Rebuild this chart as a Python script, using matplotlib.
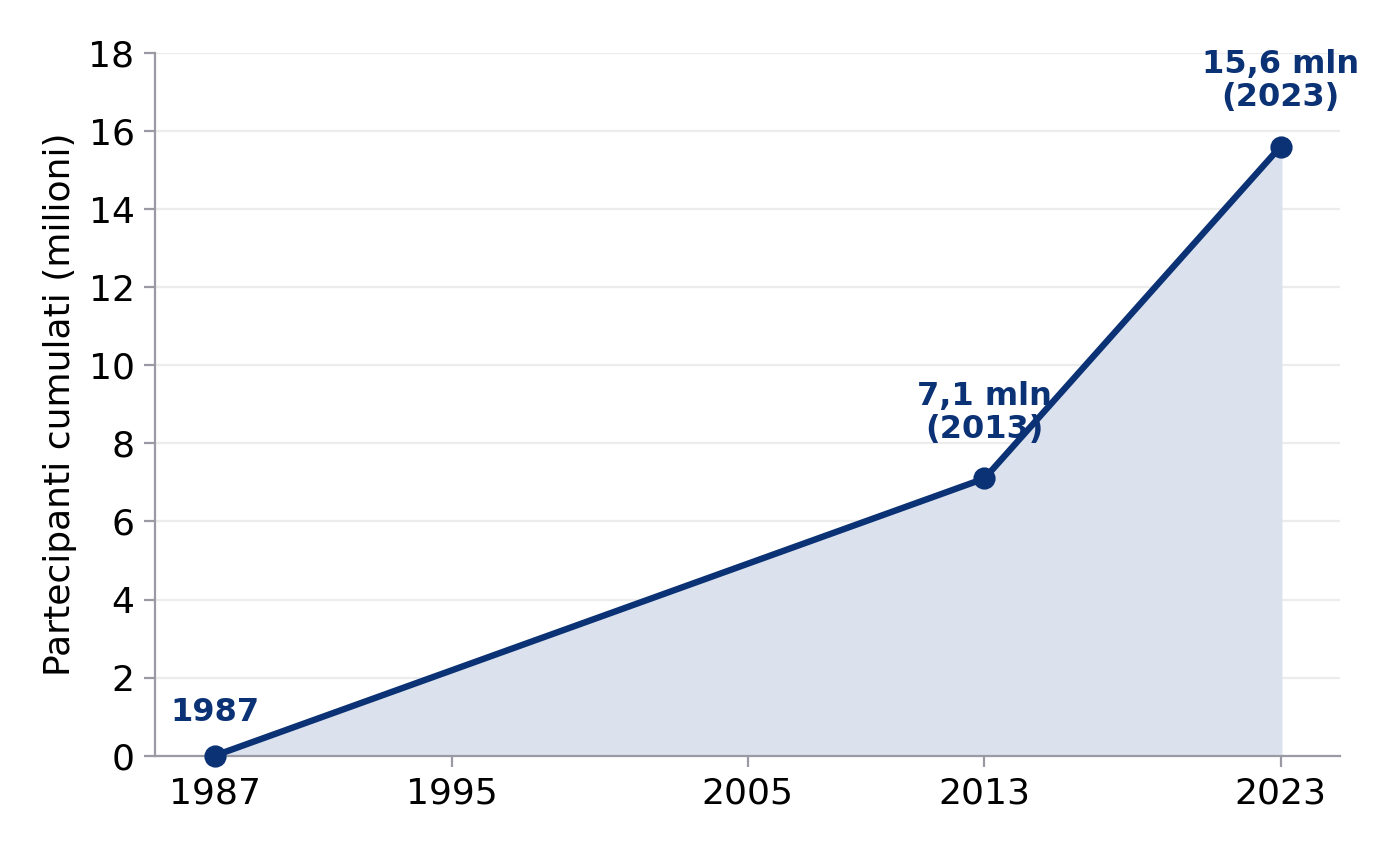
import matplotlib.pyplot as plt

years = [1987, 2013, 2023]
values = [0, 7.1, 15.6]
xticks = [1987, 1995, 2005, 2013, 2023]
labels = ['1987', '7,1 mln\n(2013)', '15,6 mln\n(2023)']

navy = '#0b3275'

fig = plt.figure(figsize=(7, 4.26), dpi=200)
ax = fig.add_axes([0.111, 0.113, 0.846, 0.825])

ax.fill_between(years, values, color='#dbe2ee', zorder=1)
ax.plot(years, values, color=navy, lw=2.3, marker='o', ms=7, zorder=3, clip_on=False)

offsets = [(0, 10), (0, 12), (0, 12)]
for x, y, t, off in zip(years, values, labels, offsets):
    ax.annotate(t, (x, y), xytext=off, textcoords='offset points',
                ha='center', va='bottom', fontsize=11.5, fontweight='bold',
                color=navy, linespacing=1.1)

ax.set_xlim(1985, 2025)
ax.set_ylim(0, 18)
ax.set_xticks(xticks)
ax.set_yticks(range(0, 19, 2))
ax.tick_params(labelsize=13, color='#9a9aa5', length=4)
ax.set_ylabel('Partecipanti cumulati (milioni)', fontsize=13)
ax.grid(axis='y', color='#ececec', lw=0.8, zorder=0)
ax.set_axisbelow(True)
for s in ['top', 'right']:
    ax.spines[s].set_visible(False)
for s in ['left', 'bottom']:
    ax.spines[s].set_color('#9a9aa5')

fig.savefig('out.png', dpi=200)
